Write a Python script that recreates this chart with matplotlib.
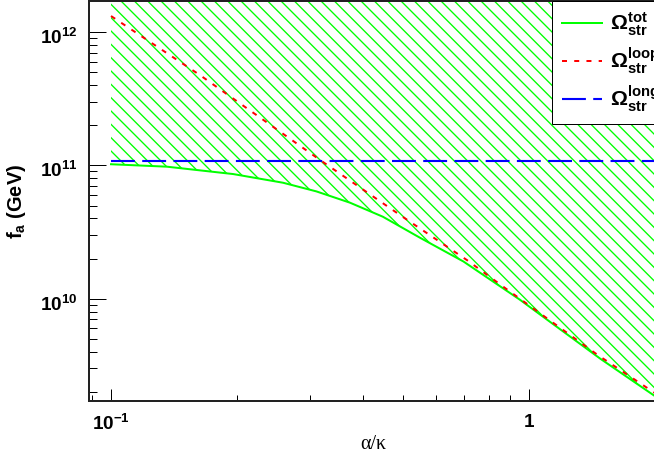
import numpy as np
import matplotlib
matplotlib.use("Agg")
import matplotlib.pyplot as plt
from matplotlib.ticker import FixedLocator, FixedFormatter, LogLocator, NullFormatter
from matplotlib.transforms import ScaledTranslation

# values
alpha_tot = [0.1, 0.136, 0.196, 0.258, 0.31, 0.373, 0.447, 0.548, 0.697, 0.952, 1.2, 1.48, 2.0]
fa_tot = [1.02e11, 9.78e10, 8.61e10, 7.41e10, 6.38e10, 5.25e10, 4.12e10, 2.87e10, 1.9e10,
          9.8e9, 5.75e9, 3.55e9, 1.86e9]

alpha_loop = [0.1, 0.163, 0.316, 0.491, 0.71, 0.877, 1.46, 2.0]
fa_loop = [1.32e12, 4.77e11, 1.1e11, 4.25e10, 1.95e10, 1.2e10, 3.78e9, 1.96e9]

alpha_long = [0.1, 2.0]
fa_long = [1.08e11, 1.08e11]

xtick_vals = [0.1, 1.0]
xtick_labels = [r'$\mathbf{10^{-1}}$', r'$\mathbf{1}$']
ytick_vals = [1e10, 1e11, 1e12]
ytick_labels = [r'$\mathbf{10^{10}}$', r'$\mathbf{10^{11}}$', r'$\mathbf{10^{12}}$']

legend_labels = [r'$\Omega^{\mathbf{tot}}_{\mathbf{str}}$',
                 r'$\Omega^{\mathbf{loop}}_{\mathbf{str}}$',
                 r'$\Omega^{\mathbf{long}}_{\mathbf{str}}$']

DPI = 80
plt.rcParams['font.family'] = ['Liberation Sans', 'DejaVu Sans']
plt.rcParams['font.weight'] = 'bold'
plt.rcParams['mathtext.fontset'] = 'custom'
plt.rcParams['mathtext.rm'] = 'Liberation Sans'
plt.rcParams['mathtext.bf'] = 'Liberation Sans:bold'
plt.rcParams['mathtext.it'] = 'Liberation Sans:italic'
plt.rcParams['hatch.linewidth'] = 1.2
plt.rcParams['hatch.color'] = '#00ff00'
plt.rcParams['lines.scale_dashes'] = False

fig = plt.figure(figsize=(654 / DPI, 459 / DPI), dpi=DPI)
ax = fig.add_axes([89 / 654, 58 / 459, 591 / 654, 400 / 459])

green = '#00ff00'
red = '#ff0000'
blue = '#0000ff'

# hatched allowed region above the total curve
ax.fill_between(alpha_tot, fa_tot, 1e13, facecolor='none', edgecolor=green,
                hatch='\\\\', linewidth=0)
ax.plot(alpha_tot, fa_tot, color=green, lw=1.8, label=legend_labels[0])
ax.plot(alpha_long, fa_long, color=blue, lw=1.9, dashes=(21.5, 6.6), label=legend_labels[2])
ax.plot(alpha_loop, fa_loop, color=red, lw=1.8, dashes=(4.5, 6.5), label=legend_labels[1])

ax.set_xscale('log')
ax.set_yscale('log')
ax.set_xlim(0.08858, 2.297)
ax.set_ylim(1.708e9, 1.711e12)

ax.xaxis.set_major_locator(FixedLocator(xtick_vals))
ax.xaxis.set_major_formatter(FixedFormatter(xtick_labels))
ax.xaxis.set_minor_locator(LogLocator(base=10, subs=np.arange(2, 10)))
ax.xaxis.set_minor_formatter(NullFormatter())
ax.yaxis.set_major_locator(FixedLocator(ytick_vals))
ax.yaxis.set_major_formatter(FixedFormatter(ytick_labels))
ax.yaxis.set_minor_locator(LogLocator(base=10, subs=np.arange(2, 10)))
ax.yaxis.set_minor_formatter(NullFormatter())

ax.tick_params(axis='x', which='major', direction='in', length=10.5, width=0.9,
               labelsize=17, pad=12)
ax.tick_params(axis='x', which='minor', direction='in', length=5.2, width=0.9)
ax.tick_params(axis='y', which='major', direction='in', length=15, width=0.9,
               labelsize=17, pad=10)
ax.tick_params(axis='y', which='minor', direction='in', length=7.2, width=0.9)

for s in ['left', 'bottom', 'top']:
    ax.spines[s].set_linewidth(1.8)
    ax.spines[s].set_color('#222222')
ax.spines['right'].set_visible(False)

for lbl in ax.get_yticklabels():
    lbl.set_transform(lbl.get_transform() + ScaledTranslation(0, -4 / DPI, fig.dpi_scale_trans))

ax.set_ylabel(r'$\mathbf{f_{a}}$ (GeV)', fontsize=18, fontweight='bold')
ax.yaxis.set_label_coords(-0.103, 0.5)
ax.set_xlabel('\u03b1/\u03ba', fontsize=18, family='Liberation Serif', fontweight='normal')
ax.xaxis.set_label_coords(0.4805, -0.085)

handles, labels = ax.get_legend_handles_labels()
order = [0, 2, 1]
leg = ax.legend([handles[i] for i in order], [labels[i] for i in order],
                loc='upper left', bbox_to_anchor=(552 / 654, 1 - 1 / 459),
                bbox_transform=fig.transFigure, fontsize=19, frameon=True,
                fancybox=False, edgecolor='black', framealpha=1,
                handlelength=1.9, handletextpad=0.4, borderpad=0.45,
                labelspacing=0.35, borderaxespad=0)
leg.get_frame().set_linewidth(0.9)

fig.savefig('out.png', dpi=DPI)
